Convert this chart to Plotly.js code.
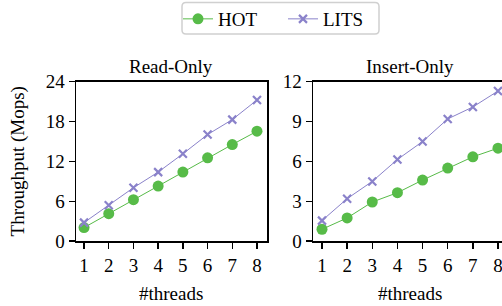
<!DOCTYPE html>
<html><head><meta charset="utf-8">
<script src="https://cdn.plot.ly/plotly-3.0.1.min.js"></script>
<style>html,body{margin:0;padding:0;overflow:hidden;background:#fff;width:502px;height:306px}</style>
</head><body><div id="chart" style="width:510px;height:306px"></div>
<script>
const threads = [1, 2, 3, 4, 5, 6, 7, 8];
const readHOT = [2.05, 4.15, 6.25, 8.3, 10.4, 12.55, 14.55, 16.55];
const readLITS = [2.8, 5.4, 8.05, 10.4, 13.15, 16.05, 18.3, 21.25];
const insertHOT = [0.9, 1.75, 2.95, 3.65, 4.6, 5.5, 6.35, 7.0];
const insertLITS = [1.55, 3.2, 4.5, 6.15, 7.5, 9.2, 10.1, 11.3];
const readTicks = [0, 6, 12, 18, 24];
const insertTicks = [0, 3, 6, 9, 12];
const green = '#57bb48', purple = '#8a82ca';
const W = 510, H = 306;
const font = {family: 'Liberation Serif', size: 19, color: '#000'};

const hotStyle = {mode: 'lines+markers', line: {color: green, width: 1}, marker: {symbol: 'circle', size: 11, color: green}};
const litsStyle = {mode: 'lines+markers', line: {color: purple, width: 1}, marker: {symbol: 'x-thin', size: 8, color: purple, line: {color: purple, width: 2.2}}};

const data = [
  Object.assign({x: threads, y: readHOT, name: 'HOT', xaxis: 'x', yaxis: 'y', showlegend: true}, hotStyle),
  Object.assign({x: threads, y: readLITS, name: 'LITS', xaxis: 'x', yaxis: 'y', showlegend: true}, litsStyle),
  Object.assign({x: threads, y: insertHOT, name: 'HOT', xaxis: 'x2', yaxis: 'y2', showlegend: false}, hotStyle),
  Object.assign({x: threads, y: insertLITS, name: 'LITS', xaxis: 'x2', yaxis: 'y2', showlegend: false}, litsStyle)
];

const ydom = [1 - 241 / H, 1 - 81 / H];
const axBase = {showgrid: false, zeroline: false, showline: true, linecolor: '#000', linewidth: 1.5, mirror: true,
  ticks: 'outside', ticklen: 6, tickwidth: 1.5, tickcolor: '#000', tickfont: font};

const layout = {
  width: W, height: H, margin: {l: 0, r: 0, t: 0, b: 0},
  paper_bgcolor: '#fff', plot_bgcolor: '#fff', font: font,
  xaxis: Object.assign({}, axBase, {domain: [76 / W, 267 / W], range: [0.675, 8.405], tickvals: threads, anchor: 'y'}),
  yaxis: Object.assign({}, axBase, {domain: ydom, range: [0, 24], tickvals: readTicks, anchor: 'x'}),
  xaxis2: Object.assign({}, axBase, {domain: [313 / W, 508 / W], range: [0.642, 8.398], tickvals: threads, anchor: 'y2'}),
  yaxis2: Object.assign({}, axBase, {domain: ydom, range: [0, 12], tickvals: insertTicks, anchor: 'x2'}),
  showlegend: true,
  legend: {orientation: 'h', x: 178 / W, xanchor: 'left', y: 1 + 1 / H, yanchor: 'top', entrywidth: 60,
    bgcolor: 'rgba(0,0,0,0)', borderwidth: 0, font: font, itemwidth: 30, tracegroupgap: 0},
  shapes: [{type: 'path', xref: 'paper', yref: 'paper',
    path: (function () {
      const x0 = 182 / W, x1 = 379 / W, y0 = 1 - 33 / H, y1 = 1 - 1.5 / H, rx = 4 / W, ry = 4 / H;
      return `M ${x0 + rx} ${y1} L ${x1 - rx} ${y1} Q ${x1} ${y1} ${x1} ${y1 - ry} L ${x1} ${y0 + ry} Q ${x1} ${y0} ${x1 - rx} ${y0} L ${x0 + rx} ${y0} Q ${x0} ${y0} ${x0} ${y0 + ry} L ${x0} ${y1 - ry} Q ${x0} ${y1} ${x0 + rx} ${y1} Z`;
    })(),
    line: {color: '#d0d0d0', width: 1.5}, fillcolor: 'rgba(0,0,0,0)', layer: 'above'}],
  annotations: [
    {text: 'Read-Only', xref: 'paper', yref: 'paper', x: 171 / W, y: 1 - 66 / H, showarrow: false, font: font, xanchor: 'center', yanchor: 'middle'},
    {text: 'Insert-Only', xref: 'paper', yref: 'paper', x: 410 / W, y: 1 - 66 / H, showarrow: false, font: font, xanchor: 'center', yanchor: 'middle'},
    {text: '#threads', xref: 'paper', yref: 'paper', x: 171 / W, y: 1 - 293 / H, showarrow: false, font: font, xanchor: 'center', yanchor: 'middle'},
    {text: '#threads', xref: 'paper', yref: 'paper', x: 410 / W, y: 1 - 293 / H, showarrow: false, font: font, xanchor: 'center', yanchor: 'middle'},
    {text: 'Throughput (Mops)', xref: 'paper', yref: 'paper', x: 18 / W, y: 1 - 161 / H, showarrow: false, font: font, textangle: -90, xanchor: 'center', yanchor: 'middle'}
  ]
};
Plotly.newPlot('chart', data, layout, {staticPlot: true, displayModeBar: false});
</script></body></html>
